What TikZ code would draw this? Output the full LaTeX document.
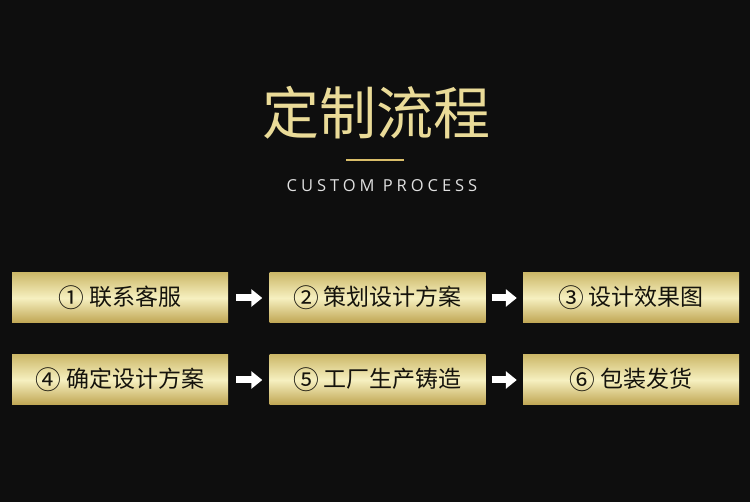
\documentclass[tikz,border=0pt]{standalone}
\usepackage{fontspec}
\setmainfont{Noto Sans CJK SC}
\newfontfamily\cjk{Noto Sans CJK SC}
\newfontfamily\latin[LetterSpace=24]{Open Sans}
\usetikzlibrary{arrows.meta}
\definecolor{bgc}{HTML}{0E0E0E}
\definecolor{goldtxt}{HTML}{EADB98}
\definecolor{goldline}{HTML}{D9BE6A}
\definecolor{gtop}{HTML}{CDB96A}
\definecolor{gbot}{HTML}{BFA552}
\definecolor{gmid}{HTML}{F6F0C0}
\definecolor{boxtxt}{HTML}{15130C}
\newcommand{\cnum}[1]{\raisebox{-0.08em}{\scalebox{1.12}{#1}}}
\tikzset{
  stepbox/.style={minimum width=216pt, minimum height=50pt, inner sep=0pt,
    top color=gtop, bottom color=gbot, middle color=gmid,
    font=\cjk\fontsize{23}{25}\selectfont, text=boxtxt},
  flowarrow/.style={draw=white, line width=7pt, -{Triangle[length=11pt,width=17pt]}},
}
\begin{document}
\begin{tikzpicture}[x=1pt,y=-1pt]
\fill[bgc] (0,0) rectangle (750,502);
\useasboundingbox (0,0) rectangle (750,502);
\node[font=\cjk\fontsize{57}{62}\selectfont, text=goldtxt] (title) at (376,113) {定制流程};
\coordinate (la) at (346,160.5);
\coordinate (lb) at (404,160.5);
\draw[goldline, line width=2pt] (la) -- (lb);
\node[font=\latin\fontsize{16.5}{19}\selectfont, text=white!88!black] (sub) at (382,186) {CUSTOM PROCESS};
\node[stepbox] (b1) at (120,298) {\cnum{①} 联系客服};
\node[stepbox] (b2) at (377.5,298) {\cnum{②} 策划设计方案};
\node[stepbox] (b3) at (631,298) {\cnum{③} 设计效果图};
\node[stepbox] (b4) at (120,380) {\cnum{④} 确定设计方案};
\node[stepbox] (b5) at (377.5,380) {\cnum{⑤} 工厂生产铸造};
\node[stepbox] (b6) at (631,380) {\cnum{⑥} 包装发货};
\draw[flowarrow] ([xshift=8pt]b1.east) -- ([xshift=-7pt]b2.west);
\draw[flowarrow] ([xshift=6pt]b2.east) -- ([xshift=-6pt]b3.west);
\draw[flowarrow] ([xshift=8pt]b4.east) -- ([xshift=-7pt]b5.west);
\draw[flowarrow] ([xshift=6pt]b5.east) -- ([xshift=-6pt]b6.west);
\end{tikzpicture}
\end{document}
